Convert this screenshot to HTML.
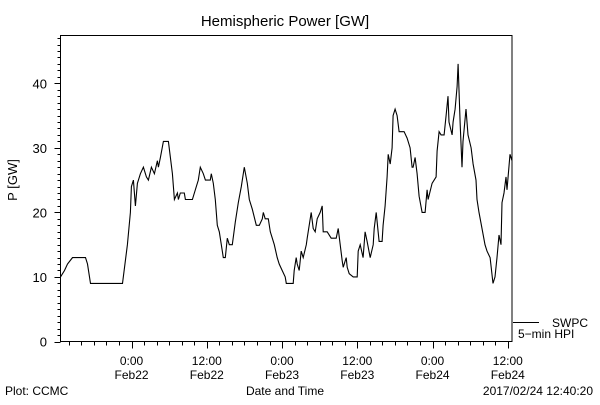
<!DOCTYPE html>
<html><head><meta charset="utf-8"><style>
body{margin:0;background:#fff}
svg text{font-family:"Liberation Sans",sans-serif;fill:#000}
</style></head><body>
<svg id="chart" width="600" height="400" viewBox="0 0 600 400" xmlns="http://www.w3.org/2000/svg">
<rect width="600" height="400" fill="#fff"/>
<text x="285" y="26" font-size="15" text-anchor="middle">Hemispheric Power [GW]</text>
<text x="0" y="0" font-size="13" text-anchor="middle" transform="translate(17,180) rotate(-90)">P [GW]</text>
<rect x="60.5" y="35.5" width="451.5" height="306" fill="none" stroke="#000" stroke-width="1"/>
<g id="yaxis"></g>
<g id="xaxis"></g>
<polyline id="series" fill="none" stroke="#000" stroke-width="1.1"/>
<line x1="513" y1="322.5" x2="539" y2="322.5" stroke="#000"/>
<text x="552" y="327" font-size="12">SWPC</text>
<text x="518" y="338" font-size="12">5−min HPI</text>
<text x="285" y="395" font-size="12" text-anchor="middle">Date and Time</text>
<text x="5" y="395" font-size="12">Plot: CCMC</text>
<text x="593" y="395" font-size="12" text-anchor="end">2017/02/24 12:40:20</text>
</svg>
<script>
const hours=[-11.33,-10.69,-10.21,-9.42,-7.35,-7.03,-6.55,-1.45,-0.66,-0.18,-0.02,0.30,0.62,0.94,1.41,1.89,2.37,2.69,3.17,3.64,4.12,4.28,4.60,5.08,5.87,6.51,6.83,7.31,7.47,7.78,8.42,8.58,9.70,10.33,10.65,10.97,11.45,11.77,12.56,12.72,13.04,13.36,13.68,13.99,14.47,14.63,14.95,15.27,15.59,16.07,16.55,17.02,17.50,17.98,18.46,18.78,19.25,19.89,20.37,20.85,21.01,21.32,21.80,22.12,22.44,22.76,23.23,23.55,24.03,24.51,24.67,25.78,25.94,26.26,26.42,26.74,27.06,27.38,27.86,28.01,28.33,28.65,28.97,29.29,29.61,30.09,30.40,30.56,31.20,31.84,32.63,32.95,33.27,33.59,33.75,34.23,34.39,34.71,35.34,35.98,36.14,36.46,36.93,37.25,37.57,38.05,38.53,38.69,39.01,39.48,39.96,40.12,40.44,40.76,40.92,41.24,41.55,41.71,42.03,42.35,42.67,43.15,43.47,43.94,44.42,44.74,44.90,45.22,45.54,45.86,46.33,46.81,47.13,47.29,47.93,48.56,48.72,49.04,49.36,49.68,49.84,50.16,50.47,50.63,51.11,51.27,51.59,51.91,52.07,52.39,52.70,52.86,53.34,53.66,54.14,54.46,54.93,55.09,55.41,55.89,56.37,56.69,57.17,57.64,57.96,58.28,58.60,58.92,59.08,59.40,59.71,59.87,60.35,60.67];
const power=[10,11,12,13,13,12,9,9,15,20,24,25,21,24.5,26,27,25.5,25,27,26,28,27,28.5,31,31,26,22,23,22,23,23,22,22,24,25,27,26,25,25,26,24.5,22,18,17,14,13,13,16,15,15,18.5,21.5,24,27,24.5,22,20.5,18,18,19,20,19,19,17,16,15,13,12,11,10,9,9,11,13,12,11,14,13,15,16,18,20,17.5,17,19,20,21,17,17,16,16,17.5,15,12.5,11.5,13,11.5,10.5,10,10,14,15,13,17,15.5,13,15,17.5,20,15.5,15.5,18,21,25.5,29,27.5,30,35,36,35,32.5,32.5,32.5,31.5,30,27,27,28.5,26,22.5,20,20,23.5,22,24.5,25.5,29.5,32.5,32,32,32,35,38,34,32,34,36,39.5,43,34,27,31,36,32,30,27.5,25,22,20,17.5,15,14,13,9,10,13,16.5,15,21.5,23,25.5,23.5,29,28,27];
const yTickLabels=["0","10","20","30","40"];
const xTickHours=[0,12,24,36,48,60];
const xTickTimes=["0:00","12:00","0:00","12:00","0:00","12:00"];
const xTickDates=["Feb22","Feb22","Feb23","Feb23","Feb24","Feb24"];
const X0=60.5,X1=512,Y0=341.5,Y1=35.5,HMIN=-11.33,HMAX=60.67,VMAX=47.4;
function xs(h){return X0+(h-HMIN)/(HMAX-HMIN)*(X1-X0);}
function ys(v){return Y0-v/VMAX*(Y0-Y1);}
const NS="http://www.w3.org/2000/svg";
function mk(tag,attrs,parent){const e=document.createElementNS(NS,tag);for(const k in attrs)e.setAttribute(k,attrs[k]);parent.appendChild(e);return e;}
const ya=document.getElementById('yaxis');
for(let v=0;v<=47;v++){
  const y=Math.round(ys(v))+0.5;const major=v%10===0;
  const t=mk('line',{x1:X0-(major?6:3),x2:X0,y1:y,y2:y,stroke:'#000'},ya);
  
  
}
yTickLabels.forEach((lab,i)=>{
  const t=mk('text',{x:47,y:ys(+lab)+5,'font-size':13,'text-anchor':'end'},ya);
  t.textContent=lab;
  
  
});
const xa=document.getElementById('xaxis');
for(let h=-10;h<=60;h+=2){
  const x=Math.round(xs(h))+0.5;const major=h%12===0;
  const t=mk('line',{x1:x,x2:x,y1:Y0,y2:Y0+(major?7:4),stroke:'#000'},xa);
  
  
}
xTickHours.forEach((h,i)=>{
  const a=mk('text',{x:xs(h),y:365,'font-size':12,'text-anchor':'middle'},xa);
  a.textContent=xTickTimes[i];
  
  
  const b=mk('text',{x:xs(h),y:379,'font-size':12,'text-anchor':'middle'},xa);
  b.textContent=xTickDates[i];
  
  
});
document.getElementById('series').setAttribute('points',hours.map((h,i)=>xs(h).toFixed(1)+','+ys(power[i]).toFixed(1)).join(' '));
</script>
</body></html>
